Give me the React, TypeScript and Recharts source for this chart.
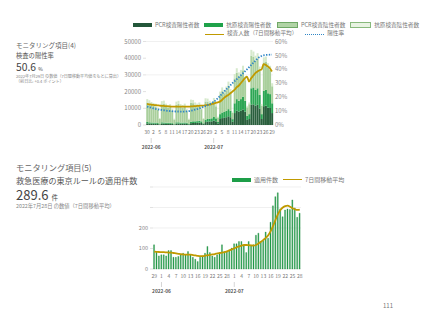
import { ComposedChart, Bar, Line, XAxis, YAxis, CartesianGrid } from 'recharts';

// ---- monitoring item (4): test positivity ----
const testDates = [
  '5/30', '5/31', '6/1', '6/2', '6/3', '6/4', '6/5', '6/6', '6/7', '6/8', '6/9', '6/10', '6/11', '6/12',
  '6/13', '6/14', '6/15', '6/16', '6/17', '6/18', '6/19', '6/20', '6/21', '6/22', '6/23', '6/24', '6/25',
  '6/26', '6/27', '6/28', '6/29', '6/30', '7/1', '7/2', '7/3', '7/4', '7/5', '7/6', '7/7', '7/8', '7/9',
  '7/10', '7/11', '7/12', '7/13', '7/14', '7/15', '7/16', '7/17', '7/18', '7/19', '7/20', '7/21', '7/22',
  '7/23', '7/24', '7/25', '7/26', '7/27', '7/28', '7/29',
];
const pcrPositive = [
  990, 880, 830, 770, 770, 660, 280, 880, 830, 720, 720, 720, 610, 280, 880, 880, 770, 770, 830, 720, 330,
  1100, 1210, 1210, 1270, 1380, 1210, 550, 1760, 1980, 2090, 2200, 2640, 2200, 990, 3580, 4130, 4290, 4680,
  5230, 4680, 1930, 7150, 8530, 7980, 8530, 9350, 7980, 3030, 3580, 12100, 12380, 11550, 12100, 9900, 3580,
  11280, 11550, 10450, 10180, 7150,
];
const antigenPositive = [
  810, 720, 670, 630, 630, 540, 220, 720, 670, 580, 580, 580, 490, 220, 720, 720, 630, 630, 670, 580, 270,
  900, 990, 990, 1030, 1120, 990, 450, 1440, 1620, 1710, 1800, 2160, 1800, 810, 2920, 3370, 3510, 3820, 4270,
  3820, 1570, 5850, 6970, 6520, 6970, 7650, 6520, 2470, 2920, 9900, 10120, 9450, 9900, 8100, 2920, 9220,
  9450, 8550, 8320, 5850,
];
const pcrNegative = [
  11650, 11220, 10460, 10030, 9690, 7910, 3150, 10800, 11140, 9780, 9100, 9520, 7400, 2810, 10540, 10970,
  9440, 9010, 9610, 6970, 2720, 11220, 10880, 9610, 8930, 9350, 7310, 2720, 10880, 10370, 9100, 8330, 9690,
  7230, 2720, 11480, 12750, 11220, 12330, 14030, 11050, 3830, 14880, 15730, 14450, 14880, 15730, 12330, 5100,
  5950, 19550, 18280, 17430, 17850, 14450, 5100, 17000, 17000, 15300, 14450, 10200,
];
const antigenNegative = [
  2050, 1980, 1840, 1770, 1710, 1390, 550, 1900, 1960, 1720, 1600, 1680, 1300, 490, 1860, 1930, 1660, 1590,
  1690, 1230, 480, 1980, 1920, 1690, 1570, 1650, 1290, 480, 1920, 1830, 1600, 1470, 1710, 1270, 480, 2020,
  2250, 1980, 2170, 2470, 1950, 670, 2620, 2770, 2550, 2620, 2770, 2170, 900, 1050, 3450, 3220, 3070, 3150,
  2550, 900, 3000, 3000, 2700, 2550, 1800,
];
const testedAvg = [
  12600, 12400, 12200, 12000, 11900, 11800, 11600, 11500, 11400, 11300, 11200, 11100, 11000, 11000, 11000,
  11000, 11000, 11000, 11000, 11000, 11000, 11100, 11200, 11300, 11400, 11500, 11600, 11600, 11800, 12000,
  12200, 12500, 12800, 13200, 13600, 14000, 15000, 16200, 17200, 18000, 19000, 20000, 21000, 22500, 23500,
  25000, 26500, 28000, 29000, 26000, 28000, 29500, 31000, 32000, 32800, 33200, 36500, 36000, 35000, 34000,
  32000,
];
const positiveRate = [
  13.2, 12.8, 12.4, 12.0, 11.6, 11.3, 11.0, 10.8, 10.6, 10.4, 10.2, 10.0, 9.9, 9.8, 9.7, 9.7, 9.6, 9.6, 9.7,
  9.8, 10.0, 10.3, 10.6, 11.0, 11.4, 11.9, 12.4, 13.0, 13.6, 14.2, 14.9, 15.7, 16.6, 17.8, 19.2, 20.8, 22.4,
  24.0, 25.5, 27.0, 28.5, 30.0, 31.4, 32.8, 34.2, 35.6, 37.0, 38.5, 40.0, 41.5, 43.0, 44.6, 46.2, 47.6, 48.8,
  49.6, 50.1, 50.3, 50.4, 50.5, 50.6,
];
const countTicks = [0, 10000, 20000, 30000, 40000, 50000];
const rateTicks = [0, 10, 20, 30, 40, 50, 60];

// ---- monitoring item (5): Tokyo rule cases ----
const ruleDates = [
  '5/29', '5/30', '5/31', '6/1', '6/2', '6/3', '6/4', '6/5', '6/6', '6/7', '6/8', '6/9', '6/10', '6/11',
  '6/12', '6/13', '6/14', '6/15', '6/16', '6/17', '6/18', '6/19', '6/20', '6/21', '6/22', '6/23', '6/24',
  '6/25', '6/26', '6/27', '6/28', '6/29', '6/30', '7/1', '7/2', '7/3', '7/4', '7/5', '7/6', '7/7', '7/8',
  '7/9', '7/10', '7/11', '7/12', '7/13', '7/14', '7/15', '7/16', '7/17', '7/18', '7/19', '7/20', '7/21',
  '7/22', '7/23', '7/24', '7/25', '7/26', '7/27', '7/28',
];
const ruleCases = [
  118, 85, 64, 69, 69, 64, 90, 90, 57, 57, 61, 69, 77, 69, 85, 69, 57, 48, 36, 57, 64, 77, 110, 80, 64, 57,
  69, 77, 118, 85, 85, 93, 102, 123, 123, 134, 134, 113, 80, 134, 113, 118, 165, 175, 134, 139, 180, 150,
  228, 308, 353, 372, 293, 255, 288, 293, 290, 337, 298, 252, 272,
];
const ruleAvg = [
  85, 84, 83, 82, 82, 81, 80, 80, 78, 76, 74, 72, 71, 70, 70, 70, 68, 66, 64, 63, 63, 65, 67, 69, 71, 73, 76,
  78, 80, 82, 86, 91, 96, 101, 106, 110, 114, 117, 117, 116, 115, 114, 118, 125, 133, 142, 152, 165, 185,
  210, 240, 268, 288, 300, 307, 309, 304, 296, 291, 288, 290,
];
const ruleTicks = [0, 100, 200, 300, 400];

const monthLabels: Record<string, string> = { '6/1': '2022-06', '7/1': '2022-07' };

const testRows = testDates.map((date, i) => ({
  date,
  pcrPos: pcrPositive[i],
  agPos: antigenPositive[i],
  pcrNeg: pcrNegative[i],
  agNeg: antigenNegative[i],
  tested: testedAvg[i],
  rate: positiveRate[i],
}));

const ruleRows = ruleDates.map((date, i) => ({ date, cases: ruleCases[i], avg: ruleAvg[i] }));

const FONT = '"Noto Sans CJK JP", "Noto Sans", sans-serif';
const GOLD = '#c09a00';

function makeDayTick(dates: string[]) {
  return (props: any) => {
    const { x, y, payload } = props;
    const i = dates.indexOf(payload.value);
    const day = String(payload.value).split('/')[1];
    const month = monthLabels[payload.value];
    return (
      <g>
        {i % 3 === 0 && (
          <text x={x} y={y + 5} textAnchor="middle" fontSize={5} fill="#777" fontFamily={FONT}>
            {day}
          </text>
        )}
        {month && (
          <g>
            <line x1={x} x2={x} y1={y + 9} y2={y + 14} stroke="#bbb" strokeWidth={0.6} />
            <text x={x} y={y + 20} textAnchor="middle" fontSize={4.8} fontWeight="bold" fill="#555" fontFamily={FONT}>
              {month}
            </text>
          </g>
        )}
      </g>
    );
  };
}

const LegendBox = ({ color, border }: { color: string; border?: string }) => (
  <span style={{ display: 'inline-block', width: 19, height: 4, background: color, border: border ? `0.6px solid ${border}` : 'none', marginRight: 3 }} />
);

const LegendLine = ({ color, dotted }: { color: string; dotted?: boolean }) => (
  <span style={{ display: 'inline-block', width: 19, height: 0, borderTop: `1.6px ${dotted ? 'dotted' : 'solid'} ${color}`, marginRight: 3, verticalAlign: 'middle' }} />
);

const abs = (left: number, top: number, extra: any = {}) => ({ position: 'absolute' as const, left, top, lineHeight: 1, whiteSpace: 'nowrap' as const, ...extra });

export default function App() {
  return (
    <div style={{ position: 'absolute', left: 0, top: 0, width: 427, height: 320, background: '#fff', fontFamily: FONT, color: '#444', overflow: 'hidden' }}>
      {/* item 4 texts */}
      <div style={abs(16, 42, { fontSize: 6.5, color: '#666' })}>モニタリング項目(4)</div>
      <div style={abs(16, 53, { fontSize: 6.3, color: '#555' })}>検査の陽性率</div>
      <div style={abs(16, 61.5, { fontSize: 10.3, color: '#444' })}>
        50.6 <span style={{ fontSize: 5 }}>%</span>
      </div>
      <div style={abs(16, 73.5, { fontSize: 4.1, color: '#888' })}>2022年7月29日 の数値（7日間移動平均値をもとに算出）</div>
      <div style={abs(16, 79, { fontSize: 4.1, color: '#888' })}>（前日比: +0.4 ポイント）</div>

      {/* item 4 legend */}
      <div style={abs(133, 22.3, { fontSize: 5.6, color: '#777', display: 'flex', alignItems: 'center' })}>
        <LegendBox color="#24573a" />
        <span style={{ marginRight: 5 }}>PCR検査陽性者数</span>
        <LegendBox color="#1fa24a" />
        <span style={{ marginRight: 6 }}>抗原検査陽性者数</span>
        <LegendBox color="#b1d4a6" border="#6fa866" />
        <span style={{ marginRight: 5 }}>PCR検査陰性者数</span>
        <LegendBox color="#e8f3e2" border="#88b97c" />
        <span>抗原検査陰性者数</span>
      </div>
      <div style={abs(205, 31.3, { fontSize: 5.6, color: '#777', display: 'flex', alignItems: 'center' })}>
        <LegendLine color={GOLD} />
        <span style={{ marginRight: 8 }}>検査人数（7日間移動平均）</span>
        <LegendLine color="#2f86c6" dotted />
        <span>陽性率</span>
      </div>

      <div style={{ position: 'absolute', left: 100, top: 36 }}>
        <ComposedChart width={200} height={125} data={testRows} margin={{ top: 5.5, right: 3, left: 6, bottom: 0 }} barCategoryGap="12%">
          <CartesianGrid yAxisId="left" vertical={false} stroke="#e6e6e6" strokeWidth={0.6} />
          <XAxis dataKey="date" interval={0} tickLine={false} tickSize={2} axisLine={false} height={36} tick={makeDayTick(testDates)} />
          <YAxis
            yAxisId="left"
            domain={[0, 50000]}
            ticks={countTicks}
            width={40}
            axisLine={false}
            tickSize={3}
            tickMargin={2}
            tickLine={{ stroke: '#ccc', strokeWidth: 0.6 }}
            tick={{ fontSize: 6, fill: '#888', fontFamily: FONT }}
          />
          <YAxis
            yAxisId="right"
            orientation="right"
            domain={[0, 60]}
            ticks={rateTicks}
            width={24}
            axisLine={false}
            tickLine={false}
            tickSize={0}
            tickMargin={2}
            tickFormatter={(v: number) => `${v}%`}
            tick={{ fontSize: 6, fill: '#888', fontFamily: FONT, textAnchor: 'start' }}
          />
          <Bar yAxisId="left" dataKey="pcrPos" stackId="t" fill="#2a5f3d" isAnimationActive={false} />
          <Bar yAxisId="left" dataKey="agPos" stackId="t" fill="#2ca653" isAnimationActive={false} />
          <Bar yAxisId="left" dataKey="pcrNeg" stackId="t" fill="#a9cf9c" isAnimationActive={false} />
          <Bar yAxisId="left" dataKey="agNeg" stackId="t" fill="#d6e9cc" isAnimationActive={false} />
          <Line yAxisId="left" type="monotone" dataKey="tested" stroke={GOLD} strokeWidth={1.8} dot={false} isAnimationActive={false} />
          <Line yAxisId="right" type="monotone" dataKey="rate" stroke="#2f86c6" strokeWidth={1.8} strokeDasharray="1.4 1.4" dot={false} isAnimationActive={false} />
        </ComposedChart>
      </div>

      {/* item 5 texts */}
      <div style={abs(16, 162.5, { fontSize: 8.2, color: '#666' })}>モニタリング項目(5)</div>
      <div style={abs(16, 176.6, { fontSize: 8.1, color: '#555' })}>救急医療の東京ルールの適用件数</div>
      <div style={abs(16, 187.5, { fontSize: 13, color: '#444' })}>
        289.6 <span style={{ fontSize: 6.5 }}>件</span>
      </div>
      <div style={abs(16, 204, { fontSize: 5.3, color: '#888' })}>2022年7月28日 の数値（7日間移動平均）</div>

      {/* item 5 legend */}
      <div style={abs(232, 176.7, { fontSize: 6, color: '#777', display: 'flex', alignItems: 'center' })}>
        <LegendBox color="#1d9e48" />
        <span style={{ marginRight: 5 }}>適用件数</span>
        <LegendLine color={GOLD} />
        <span>7日間移動平均</span>
      </div>

      <div style={{ position: 'absolute', left: 100, top: 182 }}>
        <ComposedChart width={211} height={117} data={ruleRows} margin={{ top: 5, right: 10, left: 8, bottom: 0 }} barCategoryGap="22%">
          <CartesianGrid vertical={false} stroke="#e6e6e6" strokeWidth={0.6} />
          <XAxis dataKey="date" interval={0} tickLine={false} tickSize={2} axisLine={false} height={30} tick={makeDayTick(ruleDates)} />
          <YAxis
            domain={[0, 400]}
            ticks={ruleTicks}
            width={45}
            axisLine={false}
            tickSize={3}
            tickMargin={2}
            tickLine={{ stroke: '#ccc', strokeWidth: 0.6 }}
            tickFormatter={(v: number) => (v <= 200 ? String(v) : '')}
            tick={{ fontSize: 5.5, fill: '#888', fontFamily: FONT }}
          />
          <Bar dataKey="cases" fill="#22a04b" stroke="#178038" strokeWidth={0.3} isAnimationActive={false} />
          <Line type="monotone" dataKey="avg" stroke={GOLD} strokeWidth={1.8} dot={false} isAnimationActive={false} />
        </ComposedChart>
      </div>

      <div style={abs(383, 302.5, { fontSize: 6, color: '#777' })}>111</div>
    </div>
  );
}
